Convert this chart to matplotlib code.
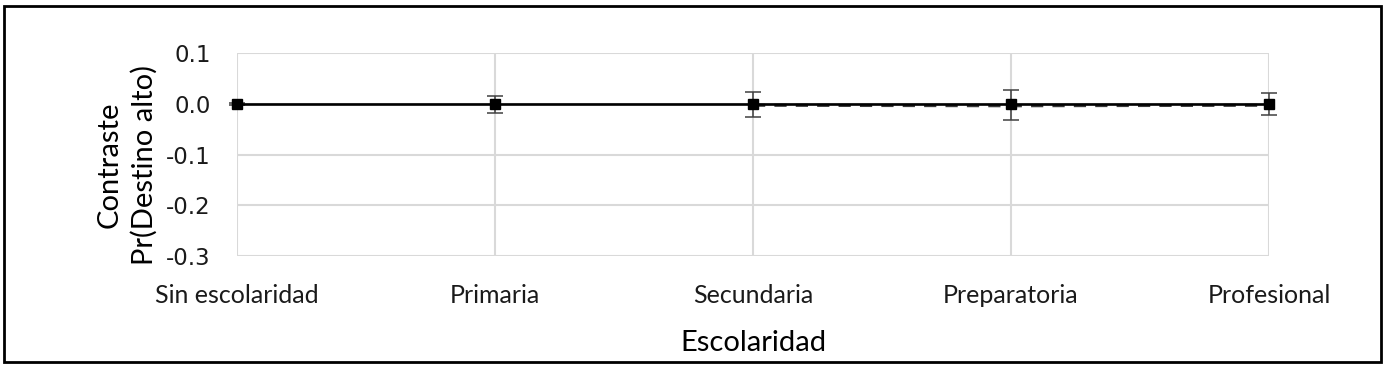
import matplotlib
matplotlib.use("Agg")
import matplotlib.pyplot as plt
import numpy as np
from matplotlib.patches import Rectangle

# data
categorias = ["Sin escolaridad", "Primaria", "Secundaria", "Preparatoria", "Profesional"]
contraste = [0.0, 0.0, 0.0, 0.0, 0.0]
err_bajo = [0.002, 0.019, 0.027, 0.032, 0.022]
err_alto = [0.002, 0.016, 0.023, 0.028, 0.021]
contraste_b = [np.nan, np.nan, -0.003, -0.004, -0.003]
yticks = [0.1, 0.0, -0.1, -0.2, -0.3]

W, H = 1386, 368
fig = plt.figure(figsize=(W / 100, H / 100), dpi=100)
ax = fig.add_axes([237 / W, 1 - 256 / H, (1269 - 237) / W, (256 - 53) / H])

x = np.arange(len(categorias))

ax.plot(x, contraste_b, color="#3a3a3a", linewidth=2.2, dashes=(4, 3), zorder=2)
ax.errorbar(x, contraste, yerr=[err_bajo, err_alto], color="black", linewidth=1.9,
            marker="s", markersize=6.5, ecolor="#404040", elinewidth=1.1,
            capsize=5.5, capthick=1.1, clip_on=False, zorder=3)

ax.set_xlim(0, len(categorias) - 1)
ax.set_ylim(-0.3, 0.1)
ax.set_yticks(yticks)
ax.set_yticklabels([f"{v:.1f}" for v in yticks], fontsize=16.5, family="DejaVu Sans")
ax.set_xticks(x)
ax.set_xticklabels(categorias, fontsize=18, family="Lato")
ax.tick_params(axis="both", length=0, colors="#1a1a1a")
ax.tick_params(axis="x", pad=20)
ax.tick_params(axis="y", pad=19)

ax.grid(True, color="#d9d9d9", linewidth=1.5, zorder=0)
ax.set_axisbelow(True)
for s in ax.spines.values():
    s.set_visible(False)

ax.set_xlabel("Escolaridad", fontsize=21, family="Lato", labelpad=17)
ax.set_ylabel("Contraste\nPr(Destino alto)", fontsize=21, family="Lato",
              linespacing=1.35)
ax.yaxis.set_label_coords(-0.077, 0.45)

# outer frame
fig.patches.append(Rectangle((4 / W, 6 / H), (1381 - 4) / W, (362 - 6) / H,
                             transform=fig.transFigure, fill=False,
                             edgecolor="black", linewidth=2))

fig.savefig("out.png", dpi=100)
